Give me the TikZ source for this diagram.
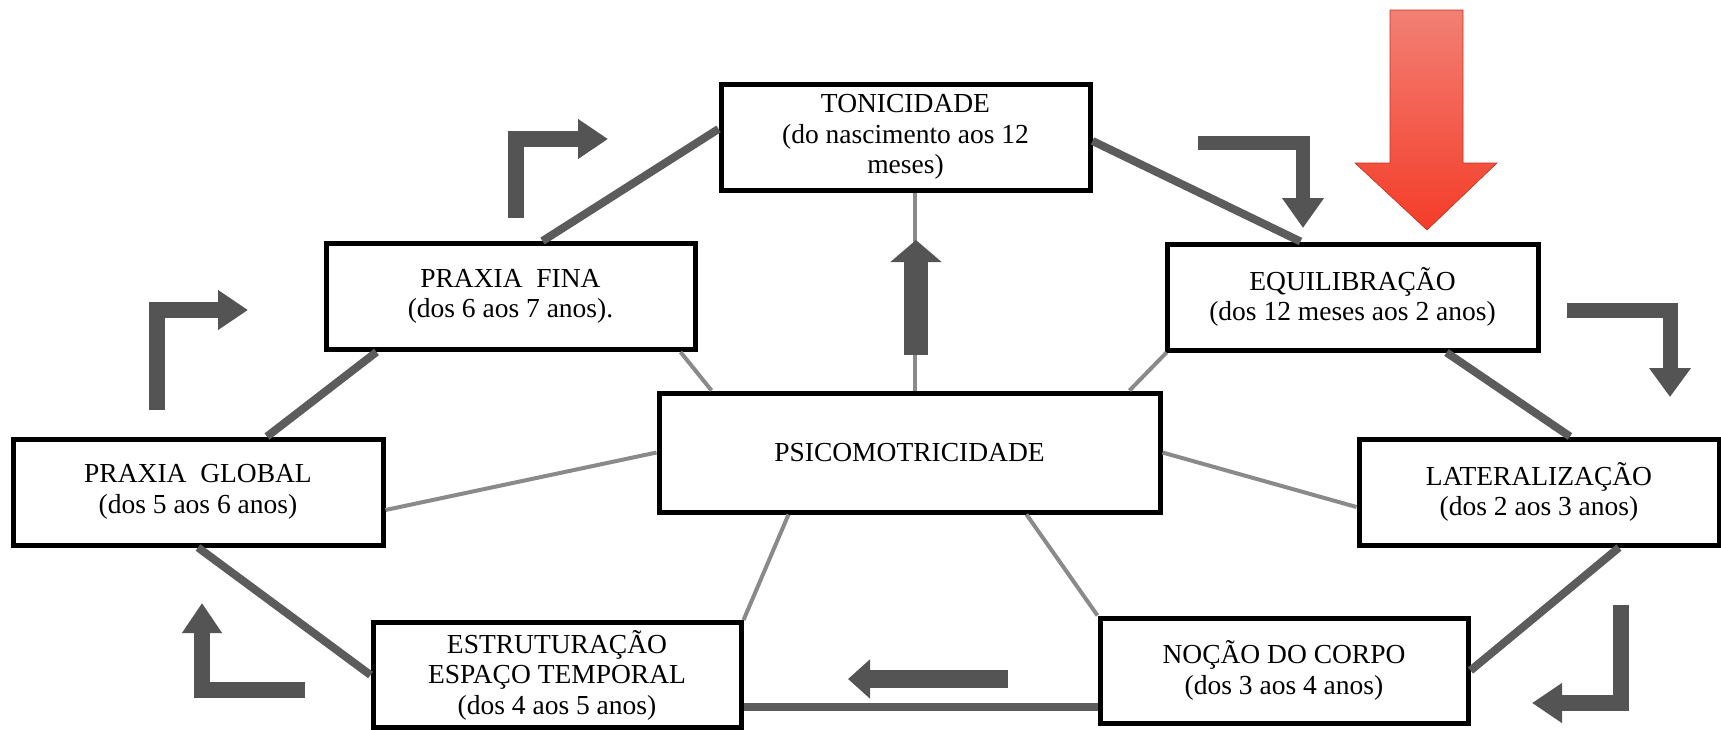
\documentclass[tikz,border=0pt]{standalone}
\usepackage{fontspec}
\setmainfont{Liberation Serif}
\usetikzlibrary{arrows.meta,calc}
\definecolor{grislinea}{RGB}{92,92,92}
\definecolor{grisradio}{RGB}{138,138,138}
\definecolor{grisflecha}{RGB}{84,84,84}
\definecolor{rojoclaro}{RGB}{242,128,116}
\definecolor{rojofuerte}{RGB}{244,60,40}
\tikzset{
	caja/.style = {
		draw, 
		fill=white, 
		rectangle, 
		minimum height=106pt, 
		minimum width=369pt, 
		line width=5pt, 
		align=center, 
		inner sep=0pt,
		font=\fontsize{27.5}{30.5}\selectfont
	},
	enlace/.style = {
		draw=grislinea, 
		line width=8pt
	},
	radio/.style = {
		draw=grisradio, 
		line width=4pt
	},
	flecha/.style = {
		draw=grisflecha, 
		line width=16pt, 
		line join=miter,
		-{Triangle[length=30pt, width=38pt]}
	},
	flecharoja/.style = {
		top color=rojoclaro, 
		bottom color=rojofuerte,
		draw=rojofuerte!80!black,
		line width=0.6pt
	}
}
\begin{document}
\begin{tikzpicture}[x=1pt, y=-1pt]
		\useasboundingbox (0,0) rectangle (1721,729);
		
		% --- Cajas ---
		\node [caja] (toni) at (905.5,137) {TONICIDADE \\ (do nascimento aos 12 \\ meses)};
		\node [caja] (fina) at (510.5,296.5) {PRAXIA\ \ FINA \\ (dos 6 aos 7 anos).};
		\node [caja, minimum width=371pt] (equi) at (1352.5,297) {EQUILIBRAÇÃO \\ (dos 12 meses aos 2 anos)};
		\node [caja, minimum width=501pt, minimum height=119pt] (psico) at (909.5,452.5) {PSICOMOTRICIDADE};
		\node [caja, minimum width=370pt] (global) at (198,492) {PRAXIA\ \ GLOBAL \\ (dos 5 aos 6 anos)};
		\node [caja, minimum width=360pt] (lat) at (1539,492) {LATERALIZAÇÃO \\ (dos 2 aos 3 anos)};
		\node [caja, minimum width=368pt, minimum height=105pt] (estrut) at (557,675) {ESTRUTURAÇÃO \\ ESPAÇO TEMPORAL \\ (dos 4 aos 5 anos)};
		\node [caja, minimum width=368pt, minimum height=105pt] (nocao) at (1284,670.5) {NOÇÃO DO CORPO \\ (dos 3 aos 4 anos)};
		
		% --- Radios desde el centro ---
		\coordinate (r1) at ([xshift=5pt]psico.north);
		\draw [radio] (r1) -- (r1 |- toni.south);
		\draw [radio] ([xshift=-198pt]psico.north) -- ([xshift=170pt]fina.south);
		\draw [radio] ([xshift=220pt]psico.north) -- ([xshift=-186pt]equi.south);
		\draw [radio] (psico.west) -- ([yshift=-18pt]global.east);
		\draw [radio] (psico.east) -- ([yshift=-15pt]lat.west);
		\draw [radio] ([xshift=-121pt]psico.south) -- (estrut.north east);
		\draw [radio] ([xshift=117pt]psico.south) -- (nocao.north west);
		
		% --- Ciclo exterior ---
		\draw [enlace] ([xshift=32pt]fina.north) -- ([yshift=8pt]toni.west);
		\draw [enlace] ([yshift=-4pt]toni.east) -- ([xshift=-52pt]equi.north);
		\draw [enlace] ([xshift=94pt]equi.south) -- ([xshift=31pt]lat.north);
		\draw [enlace] ([xshift=80pt]lat.south) -- (nocao.east);
		\coordinate (b5) at ([yshift=-36pt]nocao.west);
		\draw [enlace] (b5) -- (b5 -| estrut.east);
		\draw [enlace] (estrut.west) -- (global.south);
		\draw [enlace] ([xshift=69pt]global.north) -- ([xshift=-134pt]fina.south);
		
		% --- Flechas de sentido ---
		\coordinate (f1a) at (516,218);   \coordinate (f1b) at (608,139);
		\coordinate (f2a) at (157,410);   \coordinate (f2b) at (248,310);
		\coordinate (f3a) at (305,690);   \coordinate (f3b) at (202,603);
		\coordinate (f4a) at (1008,679);  \coordinate (f4b) at (848,679);
		\coordinate (f5a) at (1621,605);  \coordinate (f5b) at (1532,703);
		\coordinate (f6a) at (1567,310);  \coordinate (f6b) at (1670,397);
		\coordinate (f7a) at (1198,143);  \coordinate (f7b) at (1303,228);
		\coordinate (f8a) at (916,355);   \coordinate (f8b) at (916,240);
		\draw [flecha] (f1a) |- (f1b);
		\draw [flecha] (f2a) |- (f2b);
		\draw [flecha] (f3a) -| (f3b);
		\draw [flecha, line width=18pt, -{Triangle[length=22pt, width=38pt]}] (f4a) -- (f4b);
		\draw [flecha] (f5a) |- (f5b);
		\draw [flecha, line width=15pt, -{Triangle[length=29pt, width=40pt]}] (f6a) -| (f6b);
		\draw [flecha, line width=14pt, -{Triangle[length=30pt, width=40pt]}] (f7a) -| (f7b);
		\draw [flecha, line width=24pt, -{Triangle[length=22pt, width=50pt]}] (f8a) -- (f8b);
		
		% Flecha roja sobre EQUILIBRAÇÃO
		\path [flecharoja] (1390,10) -- (1463,10) -- (1463,163) -- (1497,163)
		-- (1427,230) -- (1355,163) -- (1390,163) -- cycle;
		
	\end{tikzpicture}
\end{document}
